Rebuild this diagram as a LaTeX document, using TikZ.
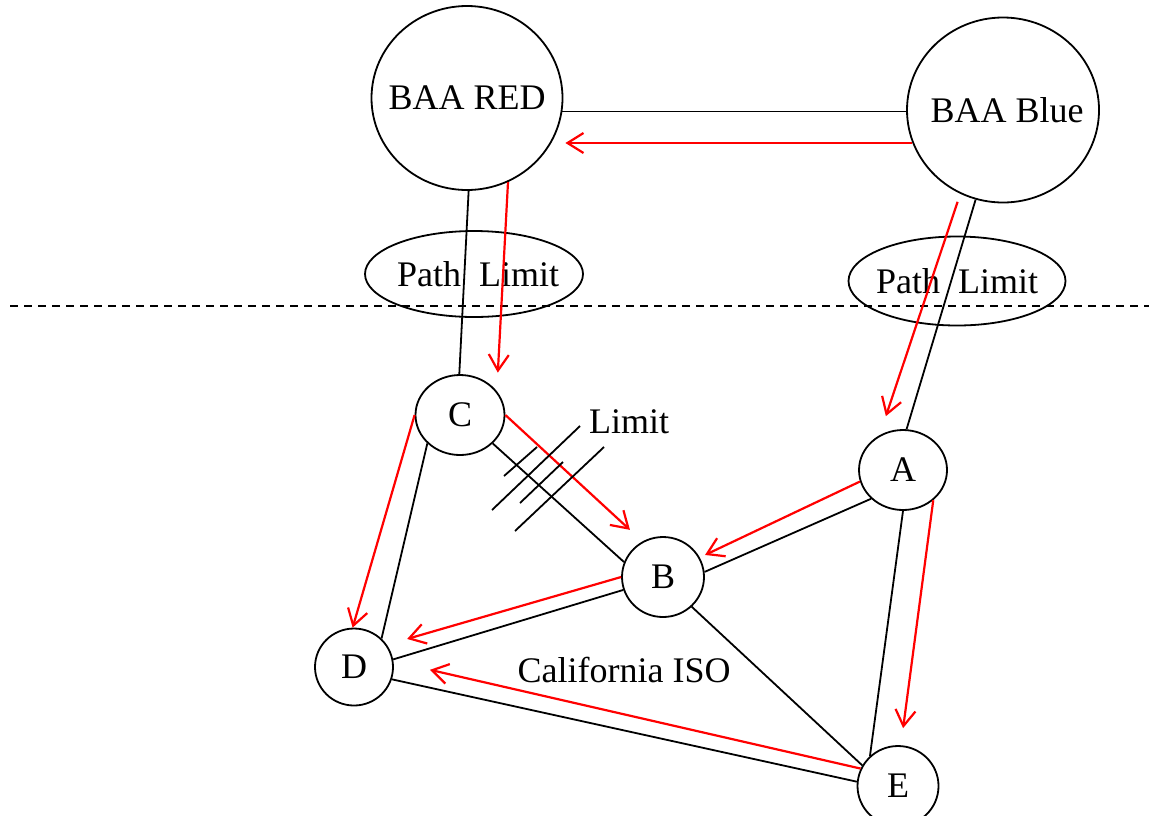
\documentclass[tikz,border=0pt]{standalone}
\usepackage{fontspec}
\setmainfont{Liberation Serif}
\usetikzlibrary{shapes.geometric, arrows.meta}

\begin{document}
\begin{tikzpicture}[x=0.5pt, y=-0.5pt, font=\fontsize{18pt}{21pt}\selectfont,
  area/.style={draw, ellipse, line width=0.9pt, inner sep=0pt},
  bus/.style={draw, ellipse, line width=0.9pt, inner sep=0pt},
  tie/.style={line width=0.9pt},
  flow/.style={red, line width=1.1pt, -{Straight Barb[length=8pt, width=10pt]}}]

  \useasboundingbox (0,0) rectangle (1149,815);

  \node[area, minimum width=95.5pt, minimum height=92pt,   label={center:BAA RED}]  (red)  at (467,98)  {};
  \node[area, minimum width=96pt,   minimum height=92.5pt, label={[xshift=2pt]center:BAA Blue}] (blue) at (1003,110) {};

  \node[area, minimum width=109pt,   minimum height=43pt,   label={[xshift=2pt]center:Path~~Limit}] (pathR) at (474,274) {};
  \node[area, minimum width=108.5pt, minimum height=44.5pt, label={center:Path~~Limit}] (pathB) at (957,281) {};

  \draw[line width=1pt, dash pattern=on 4pt off 3pt] (10,306) -- (1149,306);

  \node[bus, minimum width=44.5pt, minimum height=40pt]   (C) at (460,415) {C};
  \node[bus, minimum width=44pt,   minimum height=40pt]   (A) at (903,470) {A};
  \node[bus, minimum width=41pt,   minimum height=40pt]   (B) at (663,577) {B};
  \node[bus, minimum width=39pt,   minimum height=38.5pt] (D) at (354,667) {D};
  \node[bus, minimum width=40.5pt, minimum height=40pt]   (E) at (898,786) {E};

  \node (limit) at (629,422) {Limit};
  \node (caiso) at (624,670) {California ISO};

  \draw[tie] (red.-8) -- (red.-8 -| blue.west);
  \draw[flow, shorten >=1pt] (blue.200) -- (blue.200 -| red.east);

  \draw[tie] (red.-89) -- (C.91);
  \draw[flow, shorten >=9.25pt] (red.-64.5) -- (C.33);
  \draw[tie] (blue.253) -- (A.85);
  \draw[flow, shorten <=4.2pt, shorten >=10pt] (blue.243) -- (A.124.4);

  \draw[tie] (C.-41) -- (B.159);
  \draw[flow, shorten >=8.5pt] (C.0) -- (B.120.8);
  \draw[tie] (504,476) -- (537,447);
  \draw[tie] (492,510) -- (580,426);
  \draw[tie] (520,503) -- (563,462);
  \draw[tie] (515,531) -- (604,447);

  \draw[tie] (A.222) -- (B.7);
  \draw[flow, shorten >=2.9pt] (A.195.3) -- (B.28.6);
  \draw[tie] (A.-90) -- (E.133);
  \draw[flow, shorten >=8.6pt] (A.-45) -- (E.86);
  \draw[tie] (B.-46) -- (E.150);

  \draw[tie] (C.221) -- (D.46);
  \draw[flow] (C.180) -- (D.92);
  \draw[tie] (B.198) -- (D.11);
  \draw[flow, shorten >=10.5pt] (B.180) -- (D.34.8);
  \draw[tie] (E.174) -- (D.-18);
  \draw[flow, shorten >=18.7pt] (E.155.9) -- (D.8);

\end{tikzpicture}
\end{document}
